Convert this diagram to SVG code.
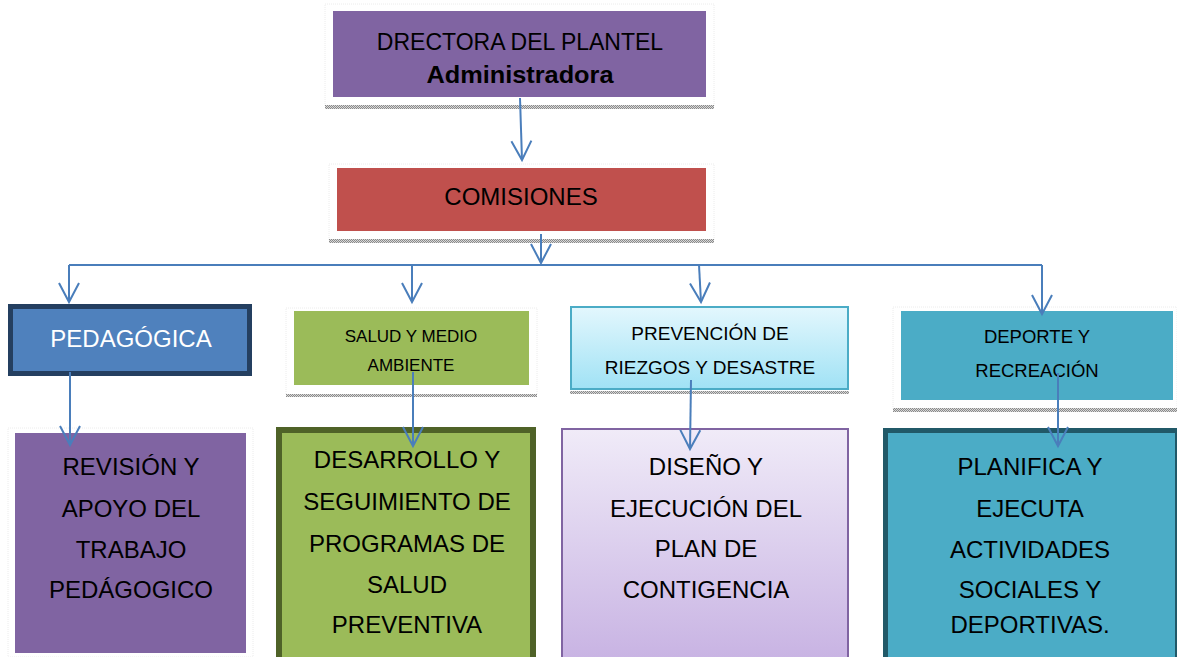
<svg xmlns="http://www.w3.org/2000/svg" width="1177" height="657" viewBox="0 0 1177 657">
<style>
text{font-family:"Liberation Sans",Arial,sans-serif;fill:#000;text-anchor:middle}
.frame{fill:#fff;stroke:#ececec;stroke-width:1;stroke-dasharray:1 1}
.shadow{fill:url(#dots)}
.conn{fill:none;stroke:#4A7EBB;stroke-width:2}
</style>
<defs>
<pattern id="dots" width="2" height="2" patternUnits="userSpaceOnUse">
<rect width="2" height="2" fill="#d8d8d8"/>
<rect width="1" height="1" fill="#8a8a8a"/>
<rect x="1" y="1" width="1" height="1" fill="#8a8a8a"/>
</pattern>
<linearGradient id="gPrev" x1="0" y1="0" x2="0" y2="1">
<stop offset="0" stop-color="#E3F7FD"/>
<stop offset="1" stop-color="#A0E2F5"/>
</linearGradient>
<linearGradient id="gDis" x1="0" y1="0" x2="0" y2="1">
<stop offset="0" stop-color="#F0EBF8"/>
<stop offset="1" stop-color="#C8B3E3"/>
</linearGradient>
<marker id="arr" markerUnits="userSpaceOnUse" viewBox="-22 -12 24 24" refX="0" refY="0" markerWidth="24" markerHeight="24" orient="auto" overflow="visible">
<path d="M-19,-10 L0,0 L-19,10" fill="none" stroke="#4A7EBB" stroke-width="2"/>
</marker>
</defs>
<rect width="1177" height="657" fill="#fff"/>

<g id="directora">
<rect class="frame" x="325" y="4" width="389" height="103"/>
<rect class="shadow" x="325" y="105" width="389" height="4"/>
<rect x="333" y="11" width="373" height="86" fill="#8064A2"/>
<text x="520" y="50" font-size="23">DRECTORA DEL PLANTEL</text>
<text x="520" y="83" font-size="23" font-weight="bold" textLength="187" lengthAdjust="spacingAndGlyphs">Administradora</text>
</g>

<g id="comisiones">
<rect class="frame" x="329" y="164" width="385" height="76"/>
<rect class="shadow" x="329" y="239" width="385" height="4"/>
<rect x="337" y="168" width="369" height="63" fill="#C0504D"/>
<text x="521" y="205" font-size="24">COMISIONES</text>
</g>

<g id="pedagogica">
<rect x="10.5" y="306.5" width="239" height="67" fill="#4F81BD" stroke="#243F60" stroke-width="5"/>
<text x="131" y="347" font-size="24" style="fill:#fff">PEDAGÓGICA</text>
</g>

<g id="salud">
<rect class="frame" x="286" y="308" width="251" height="87"/>
<rect class="shadow" x="286" y="394" width="251" height="3"/>
<rect x="294" y="311" width="235" height="74" fill="#9BBB59"/>
<text x="411" y="342" font-size="17">SALUD Y MEDIO</text>
<text x="411" y="371" font-size="17">AMBIENTE</text>
</g>

<g id="prevencion">
<rect x="571" y="307" width="277" height="82" fill="url(#gPrev)" stroke="#4BACC6" stroke-width="2"/>
<rect class="shadow" x="570" y="391" width="279" height="3"/>
<text x="710" y="340" font-size="19">PREVENCIÓN DE</text>
<text x="710" y="374" font-size="19">RIEZGOS Y DESASTRE</text>
</g>

<g id="deporte">
<rect class="frame" x="893" y="307" width="284" height="102"/>
<rect class="shadow" x="893" y="408" width="284" height="4"/>
<rect x="901" y="311" width="272" height="89" fill="#4BACC6"/>
<text x="1037" y="343" font-size="18.5">DEPORTE Y</text>
<text x="1037" y="377" font-size="18.5">RECREACIÓN</text>
</g>

<g id="revision">
<rect class="frame" x="8" y="428" width="245" height="229"/>
<rect x="15" y="433" width="231" height="220" fill="#8064A2"/>
<text x="131" y="475" font-size="24">REVISIÓN Y</text>
<text x="131" y="517" font-size="24">APOYO DEL</text>
<text x="131" y="558" font-size="24">TRABAJO</text>
<text x="131" y="598" font-size="24">PEDÁGOGICO</text>
</g>

<g id="desarrollo">
<rect x="279" y="430" width="254" height="232" fill="#9BBB59" stroke="#4F6228" stroke-width="6"/>
<text x="407" y="468" font-size="24">DESARROLLO Y</text>
<text x="407" y="510" font-size="24">SEGUIMIENTO DE</text>
<text x="407" y="552" font-size="24">PROGRAMAS DE</text>
<text x="407" y="593" font-size="24">SALUD</text>
<text x="407" y="633" font-size="24">PREVENTIVA</text>
</g>

<g id="diseno">
<rect x="562" y="429" width="286" height="232" fill="url(#gDis)" stroke="#8064A2" stroke-width="2"/>
<text x="706" y="475" font-size="24">DISEÑO Y</text>
<text x="706" y="517" font-size="24">EJECUCIÓN DEL</text>
<text x="706" y="557" font-size="24">PLAN DE</text>
<text x="706" y="598" font-size="24">CONTIGENCIA</text>
</g>

<g id="planifica">
<rect x="885.5" y="430.5" width="292" height="232" fill="#4BACC6" stroke="#215968" stroke-width="5"/>
<text x="1030" y="475" font-size="24">PLANIFICA Y</text>
<text x="1030" y="517" font-size="24">EJECUTA</text>
<text x="1030" y="558" font-size="24">ACTIVIDADES</text>
<text x="1030" y="598" font-size="24">SOCIALES Y</text>
<text x="1030" y="633" font-size="24">DEPORTIVAS.</text>
</g>

<g id="connectors">
<path class="conn" d="M520,98 L522,160" marker-end="url(#arr)"/>
<path class="conn" d="M541,234 L541,263" marker-end="url(#arr)"/>
<path class="conn" d="M69,265 L1042,265"/>
<path class="conn" d="M69,265 L69,302" marker-end="url(#arr)"/>
<path class="conn" d="M412,265 L412,302" marker-end="url(#arr)"/>
<path class="conn" d="M699,265 L701,302" marker-end="url(#arr)"/>
<path class="conn" d="M1042,265 L1042,314" marker-end="url(#arr)"/>
<path class="conn" d="M70,372 L70,445" marker-end="url(#arr)"/>
<path class="conn" d="M413,372 L413,446" marker-end="url(#arr)"/>
<path class="conn" d="M691,380 L690,449" marker-end="url(#arr)"/>
<path class="conn" d="M1058,373 L1058,446" marker-end="url(#arr)"/>
</g>
</svg>
